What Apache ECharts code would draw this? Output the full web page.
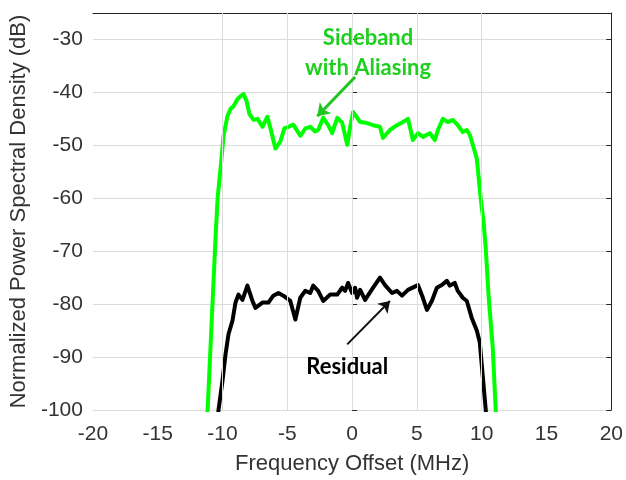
<!DOCTYPE html>
<html>
<head>
<meta charset="utf-8">
<script src="https://cdn.jsdelivr.net/npm/echarts@6/dist/echarts.min.js"></script>
<style>
  html, body { margin: 0; padding: 0; background: #fff; }
  #chart { width: 626px; height: 480px; }
</style>
</head>
<body>
<div id="chart"></div>
<script>
// tick values
const xLabels = [-20, -15, -10, -5, 0, 5, 10, 15, 20];
const xGrid = [-10, -5, 0, 5, 10];
const yTicks = [-100, -90, -80, -70, -60, -50, -40, -30];

// sideband with aliasing (green)
const sideFreq = [-11.3, -11.15, -10.85, -10.54, -10.38, -10.08, -9.92, -9.62, -9.38, -9.15, -8.85, -8.6, -8.38, -8.15, -7.92, -7.6, -7.3, -6.92, -6.54, -6.3, -5.92, -5.54, -5.23, -4.92, -4.54, -4.0, -3.6, -3.23, -2.85, -2.62, -2.23, -1.85, -1.54, -1.15, -0.77, -0.38, -0.15, 0.08, 0.62, 1.15, 1.62, 2.15, 2.38, 2.92, 3.46, 3.92, 4.31, 4.69, 5.08, 5.46, 6.0, 6.38, 6.62, 7.0, 7.38, 7.77, 8.15, 8.54, 8.85, 9.08, 9.31, 9.62, 9.92, 10.15, 10.31, 10.54, 10.85, 11.08, 11.2];
const sidePsd = [-103, -100, -84, -67.5, -60.0, -52.5, -48.2, -44.5, -43.1, -42.6, -41.3, -40.7, -40.3, -41.6, -44.1, -45.2, -45.0, -46.5, -44.6, -46.8, -50.6, -49.3, -46.8, -46.5, -46.1, -48.2, -46.8, -46.5, -47.4, -47.1, -44.8, -46.2, -47.7, -44.8, -45.7, -49.9, -46.5, -43.7, -45.6, -45.8, -46.2, -46.5, -48.6, -47.1, -46.2, -45.6, -45.0, -49.0, -47.7, -48.4, -47.7, -49.0, -47.1, -45.0, -45.6, -45.2, -46.2, -47.5, -47.1, -48.0, -49.9, -52.5, -60.0, -64.7, -69.4, -78.8, -88.2, -100, -103];

// residual (black)
const resFreq = [-10.4, -10.31, -10.0, -9.77, -9.54, -9.23, -9.0, -8.77, -8.46, -8.08, -7.69, -7.46, -6.92, -6.46, -6.08, -5.69, -5.31, -4.77, -4.38, -4.0, -3.62, -3.23, -3.0, -2.62, -2.23, -1.69, -1.15, -0.77, -0.54, -0.31, 0.0, 0.23, 0.38, 0.62, 1.0, 1.62, 2.15, 2.54, 3.08, 3.46, 3.85, 4.31, 5.08, 5.46, 5.77, 6.15, 6.54, 6.92, 7.31, 7.54, 7.92, 8.15, 8.54, 8.85, 9.23, 9.62, 9.85, 10.0, 10.31, 10.4];
const resPsd = [-103, -100, -94.4, -89.5, -85.7, -83.1, -79.7, -78.2, -79.2, -76.5, -79.4, -80.7, -79.7, -79.7, -78.4, -77.9, -78.4, -79.4, -82.9, -78.8, -77.5, -77.9, -76.5, -77.5, -79.4, -78.2, -78.2, -76.9, -77.5, -76.0, -77.9, -76.9, -78.8, -77.3, -79.2, -76.9, -75.0, -76.4, -77.9, -77.5, -78.4, -77.3, -76.4, -78.8, -81.1, -79.4, -76.9, -76.4, -75.6, -76.5, -76.0, -77.5, -78.8, -79.4, -82.6, -85.0, -87.2, -91.4, -100, -103];

// annotations (data coordinates)
const sideArrow = [[0.23, -37.1], [-2.69, -44.5]];
const resArrow = [[-0.38, -87.6], [2.92, -79.4]];
const sideText = [1.23, -32.5];
const resText = [-0.38, -91.9];

const textColor = '#262626';
const green = '#00ff00';
const gridColor = '#dcdcdc';

const chart = echarts.init(document.getElementById('chart'));

function pairs(xs, ys) {
    return xs.map((x, i) => [x, ys[i]]);
}

chart.setOption({
    backgroundColor: '#fff',
    animation: false,
    grid: { left: 92, right: 13, top: 13, bottom: 67 },
    xAxis: [
        {
            type: 'value',
            position: 'bottom',
            min: -20,
            max: 20,
            interval: 5,
            name: 'Frequency Offset (MHz)',
            nameLocation: 'middle',
            nameGap: 43,
            nameTextStyle: { fontFamily: 'Liberation Sans', fontSize: 22, color: '#333' },
            axisLine: { show: false },
            axisTick: { show: true, inside: true, length: 5, customValues: xGrid, lineStyle: { color: textColor } },
            axisLabel: { customValues: xLabels, margin: 14, fontFamily: 'Liberation Sans', fontSize: 21, color: '#333' },
            splitLine: { show: false }
        },
        {
            type: 'value',
            position: 'top',
            min: -20,
            max: 20,
            axisLine: { show: true, onZero: false, lineStyle: { color: textColor, width: 1 } },
            axisTick: { show: true, inside: true, length: 5, customValues: xGrid, lineStyle: { color: textColor } },
            axisLabel: { show: false },
            splitLine: { show: false }
        }
    ],
    yAxis: [
        {
            type: 'value',
            position: 'left',
            min: -100,
            max: -25,
            name: 'Normalized Power Spectral Density (dB)',
            nameLocation: 'middle',
            nameGap: 58,
            nameTextStyle: { fontFamily: 'Liberation Sans', fontSize: 22, color: '#333' },
            axisLine: { show: false },
            axisTick: { show: true, inside: true, length: 5, customValues: yTicks, lineStyle: { color: textColor } },
            axisLabel: { customValues: yTicks, margin: 10, fontFamily: 'Liberation Sans', fontSize: 21, color: '#333' },
            splitLine: { show: true, lineStyle: { color: gridColor, width: 1 } }
        },
        {
            type: 'value',
            position: 'right',
            min: -100,
            max: -25,
            axisLine: { show: true, onZero: false, lineStyle: { color: textColor, width: 1 } },
            axisTick: { show: true, inside: true, length: 5, customValues: yTicks, lineStyle: { color: textColor } },
            axisLabel: { show: false },
            splitLine: { show: false }
        }
    ],
    series: [
        {
            // vertical grid lines only between -10 and 10
            name: 'grid',
            type: 'line',
            z: 1,
            data: [],
            silent: true,
            markLine: {
                silent: true,
                symbol: ['none', 'none'],
                label: { show: false },
                lineStyle: { color: gridColor, width: 1, type: 'solid' },
                data: xGrid.map(v => ({ xAxis: v }))
            }
        },
        {
            name: 'Sideband with Aliasing',
            type: 'line',
            z: 3,
            data: pairs(sideFreq, sidePsd),
            showSymbol: false,
            clip: true,
            lineStyle: { color: green, width: 4, join: 'round' },
            markLine: {
                silent: true,
                symbol: ['none', 'arrow'],
                symbolSize: 12,
                label: { show: false },
                lineStyle: { color: '#1fc41f', width: 3, type: 'solid' },
                data: [[{ coord: sideArrow[0] }, { coord: sideArrow[1] }]]
            },
            markPoint: {
                silent: true,
                symbol: 'circle',
                symbolSize: 0,
                label: {
                    show: true,
                    formatter: 'Sideband\nwith Aliasing',
                    fontFamily: 'Lato',
                    fontWeight: 'bold',
                    fontSize: 22,
                    lineHeight: 30,
                    align: 'center',
                    color: '#1fcf1f'
                },
                data: [{ coord: sideText }]
            }
        },
        {
            name: 'Residual',
            type: 'line',
            z: 3,
            data: pairs(resFreq, resPsd),
            showSymbol: false,
            clip: true,
            lineStyle: { color: '#000', width: 4, join: 'round' },
            markLine: {
                silent: true,
                symbol: ['none', 'arrow'],
                symbolSize: 11,
                label: { show: false },
                lineStyle: { color: '#111', width: 2, type: 'solid' },
                data: [[{ coord: resArrow[0] }, { coord: resArrow[1] }]]
            },
            markPoint: {
                silent: true,
                symbol: 'circle',
                symbolSize: 0,
                label: {
                    show: true,
                    formatter: 'Residual',
                    fontFamily: 'Lato',
                    fontWeight: 'bold',
                    fontSize: 22,
                    color: '#000'
                },
                data: [{ coord: resText }]
            }
        }
    ]
});
</script>
</body>
</html>
